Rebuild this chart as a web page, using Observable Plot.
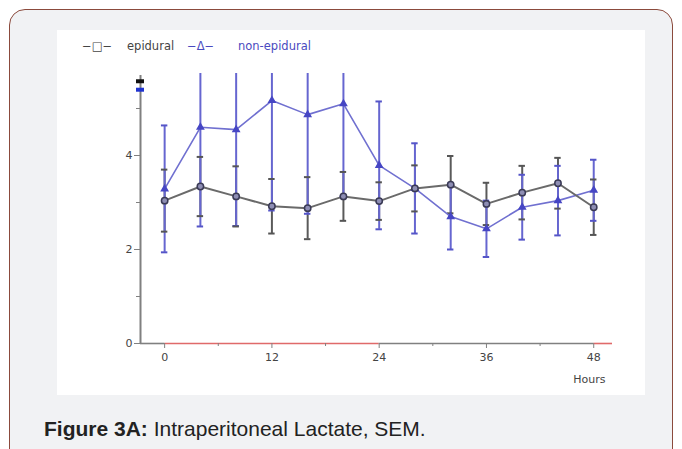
<!DOCTYPE html>
<html>
<head>
<meta charset="utf-8">
<script src="https://cdn.jsdelivr.net/npm/d3@7"></script>
<script src="https://cdn.jsdelivr.net/npm/@observablehq/plot@0.6"></script>
<style>
  html, body { margin: 0; padding: 0; background: #ffffff; width: 682px; height: 449px; overflow: hidden; }
  #frame { position: absolute; left: 9px; top: 9px; width: 662px; height: 480px; border: 1px solid #8b4a3c; border-radius: 16px; background: #f1f2f4; }
  #panel { position: absolute; left: 57px; top: 30px; width: 588px; height: 365px; background: #ffffff; }
  #legend { position: absolute; left: 0; top: 0; width: 588px; height: 30px; font-family: "DejaVu Sans", sans-serif; font-size: 11.5px; }
  #legend span { position: absolute; top: 9px; white-space: nowrap; }
  #chart { position: absolute; left: 0; top: 30px; }
  #caption { position: absolute; left: 44px; top: 417px; font-family: "Liberation Sans", Arial, sans-serif; font-size: 21px; color: #222; white-space: nowrap; }
</style>
</head>
<body>
<div id="frame"></div>
<div id="panel">
  <div id="legend"></div>
  <div id="chart"></div>
</div>
<div id="caption"><b>Figure 3A:</b> Intraperitoneal Lactate, SEM.</div>
<script>
// ---- data ----
const hours   = [0, 4, 8, 12, 16, 20, 24, 28, 32, 36, 40, 44, 48];
const epiMean = [3.04, 3.34, 3.13, 2.92, 2.88, 3.13, 3.03, 3.30, 3.38, 2.97, 3.21, 3.41, 2.90];
const epiSem  = [0.66, 0.63, 0.64, 0.58, 0.66, 0.52, 0.40, 0.49, 0.61, 0.45, 0.57, 0.54, 0.59];
const nonMean = [3.29, 4.60, 4.55, 5.17, 4.87, 5.10, 3.79, 3.30, 2.70, 2.44, 2.90, 3.04, 3.26];
const nonSem  = [1.35, 2.11, 2.05, 2.34, 2.11, 1.97, 1.36, 0.96, 0.70, 0.60, 0.69, 0.74, 0.65];
const seriesNames = ["epidural", "non-epidural"];
const legendSymbols = ["\u2212\u25A1\u2212", "\u2212\u0394\u2212"];
const yTicks = [0, 2, 4];
const yMinorTicks = [1, 3, 5];
const xTicks = [0, 12, 24, 36, 48];
const xMinorTicks = [6, 18, 30, 42];
const xDomain = [-2.7, 50.1];
const yDomain = [0, 5.745];
const redSegments = [{x1: 0, x2: 24}, {x1: 48, x2: 50.1}];
const greySegments = [{x1: -2.7, x2: 0}, {x1: 24, x2: 48}];
const topFlags = [{y: 5.58, series: "epidural"}, {y: 5.40, series: "non-epidural"}];
const xLabel = "Hours";

// ---- build ----
const epi = hours.map((h, i) => ({h, m: epiMean[i], lo: epiMean[i] - epiSem[i], hi: epiMean[i] + epiSem[i]}));
const non = hours.map((h, i) => ({h, m: nonMean[i], lo: nonMean[i] - nonSem[i], hi: nonMean[i] + nonSem[i]}));
const capHalf = 0.36;

// legend
const legend = document.getElementById("legend");
const legendItems = [
  {text: legendSymbols[0], left: 25, color: "#444"},
  {text: seriesNames[0], left: 70, color: "#444"},
  {text: legendSymbols[1], left: 130, color: "#4a4ac0"},
  {text: seriesNames[1], left: 181, color: "#4a4ac0"}
];
for (const it of legendItems) {
  const s = document.createElement("span");
  s.textContent = it.text; s.style.left = it.left + "px"; s.style.color = it.color;
  legend.appendChild(s);
}

const axisColor = "#808080";
const chart = Plot.plot({
  width: 588,
  height: 335,
  marginTop: 13,
  marginBottom: 52,
  marginLeft: 83,
  marginRight: 33,
  style: {fontFamily: "DejaVu Sans, sans-serif", fontSize: "11px", background: "transparent", color: "#444"},
  x: {domain: xDomain},
  y: {domain: yDomain},
  marks: [
    // axes lines
    Plot.ruleY(greySegments, {y: 0, x1: "x1", x2: "x2", stroke: axisColor, strokeWidth: 1.6}),
    Plot.ruleY(redSegments, {y: 0, x1: "x1", x2: "x2", stroke: "#e06a6a", strokeWidth: 1.6}),
    Plot.ruleX([xDomain[0]], {y1: 0, y2: 5.7, stroke: axisColor, strokeWidth: 2}),
    Plot.axisY({ticks: yTicks, tickSize: 6, tickPadding: 2, tickFormat: d3.format("d"), stroke: axisColor, fill: "#444"}),
    Plot.axisY({ticks: yMinorTicks, tickSize: 4, tickFormat: () => "", stroke: axisColor}),
    Plot.axisX({ticks: xTicks, tickSize: 5, tickPadding: 5, tickFormat: d3.format("d"), stroke: axisColor, fill: "#444"}),
    Plot.axisX({ticks: xMinorTicks, tickSize: 3, tickFormat: () => "", stroke: axisColor}),
    Plot.text([xLabel], {frameAnchor: "bottom-right", textAnchor: "end", dx: -7, dy: 39, fill: "#444"}),
    Plot.ruleY(topFlags, {y: "y", x1: xDomain[0] - 0.45, x2: xDomain[0] + 0.45, stroke: d => d.series === "epidural" ? "#111111" : "#1f33d0", strokeWidth: 4}),
    // error bars
    Plot.ruleX(epi, {x: "h", y1: "lo", y2: "hi", stroke: "#5a5a5a", strokeWidth: 2, clip: true}),
    Plot.ruleX(non, {x: "h", y1: "lo", y2: "hi", stroke: "#6666d0", strokeWidth: 2, clip: true}),
    Plot.ruleY(non, {y: "lo", x1: d => d.h - capHalf, x2: d => d.h + capHalf, stroke: "#5555c8", strokeWidth: 2, clip: true}),
    Plot.ruleY(non, {y: "hi", x1: d => d.h - capHalf, x2: d => d.h + capHalf, stroke: "#5555c8", strokeWidth: 2, clip: true}),
    Plot.ruleY(epi, {y: "lo", x1: d => d.h - capHalf, x2: d => d.h + capHalf, stroke: "#555555", strokeWidth: 2, clip: true}),
    Plot.ruleY(epi, {y: "hi", x1: d => d.h - capHalf, x2: d => d.h + capHalf, stroke: "#555555", strokeWidth: 2, clip: true}),
    // lines
    Plot.line(non, {x: "h", y: "m", stroke: "#7070d0", strokeWidth: 1.6}),
    Plot.line(epi, {x: "h", y: "m", stroke: "#6a6a6a", strokeWidth: 2}),
    // markers
    Plot.dot(non, {x: "h", y: "m", symbol: "triangle", r: 2.3, fill: "#4646c4", stroke: "#4646c4"}),
    Plot.dot(epi, {x: "h", y: "m", r: 3.2, fill: "#8e8eb4", stroke: "#3a3a55", strokeWidth: 1.5})
  ]
});
document.getElementById("chart").appendChild(chart);
</script>
</body>
</html>
